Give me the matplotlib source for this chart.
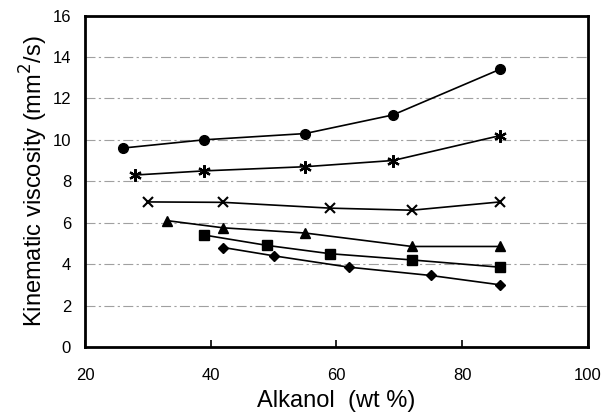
import numpy as np
import matplotlib.pyplot as plt

plt.rcParams['font.family'] = ['Liberation Sans', 'DejaVu Sans']

# Data
x_circle = [26, 39, 55, 69, 86]
y_circle = [9.6, 10.0, 10.3, 11.2, 13.4]

x_star = [28, 39, 55, 69, 86]
y_star = [8.3, 8.5, 8.7, 9.0, 10.2]

x_cross = [30, 42, 59, 72, 86]
y_cross = [7.0, 6.98, 6.7, 6.6, 7.0]

x_tri = [33, 42, 55, 72, 86]
y_tri = [6.1, 5.75, 5.5, 4.85, 4.85]

x_square = [39, 49, 59, 72, 86]
y_square = [5.4, 4.9, 4.5, 4.2, 3.85]

x_diamond = [42, 50, 62, 75, 86]
y_diamond = [4.8, 4.4, 3.85, 3.45, 3.0]

x_ticks = [20, 40, 60, 80, 100]
y_ticks = [0, 2, 4, 6, 8, 10, 12, 14, 16]

fig = plt.figure(figsize=(6.14, 4.19), dpi=100)
ax = fig.add_axes([0.1384, 0.172, 0.819, 0.791])

# Grey dash-dot gridlines, as in the scanned figure
for yv in y_ticks[1:-1]:
    ax.axhline(yv, color='#a0a0a0', lw=0.8, ls=(0, (9, 3, 2, 3)), zorder=0)

ax.plot(x_circle, y_circle, color='black', lw=1.2, marker='o', ms=7)
ax.plot(x_star, y_star, color='black', lw=1.2, marker=(6, 2, 0), ms=9, mew=1.6)
ax.plot(x_cross, y_cross, color='black', lw=1.2, marker='x', ms=7, mew=1.5)
ax.plot(x_tri, y_tri, color='black', lw=1.2, marker='^', ms=7)
ax.plot(x_square, y_square, color='black', lw=1.2, marker='s', ms=7)
ax.plot(x_diamond, y_diamond, color='black', lw=1.2, marker='D', ms=5)

ax.set_xlim(20, 100)
ax.set_ylim(0, 16)
ax.set_xticks(x_ticks)
ax.set_yticks(y_ticks)
ax.tick_params(axis='x', direction='in', length=5, width=1.2, labelsize=12, pad=15)
ax.tick_params(axis='y', direction='in', length=0, labelsize=12, pad=10)
for s in ax.spines.values():
    s.set_linewidth(2)

ax.set_xlabel('Alkanol  (wt %)', fontsize=17, labelpad=5)
ax.set_ylabel('Kinematic viscosity (mm$^2$/s)', fontsize=17, labelpad=2)

fig.savefig('out.png', dpi=100)
